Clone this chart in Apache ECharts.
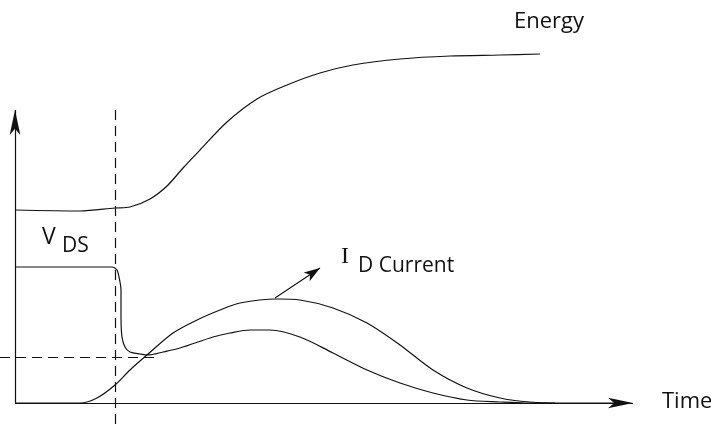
<!DOCTYPE html>
<html>
<head>
<meta charset="utf-8">
<script src="https://cdn.jsdelivr.net/npm/echarts@6/dist/echarts.min.js"></script>
<style>
  html, body { margin: 0; padding: 0; background: #fff; }
  #main { width: 711px; height: 425px; }
</style>
</head>
<body>
<div id="main"></div>
<script>
// time on x, level on y (origin at the axis corner)
var energy = [[0,193],[65,192],[100,195],[115,196],[135,204],[152,217],[168,235],[185,253],[212,281],[242,304],[272,318],[305,330],[338,338],[385,344],[435,347],[485,348],[525,349]];
var vds = [[0,136],[97,136],[102,133],[104,126],[106,113],[106,86],[107,66],[110,56],[115,51],[125,49],[133,48],[148,51],[165,55],[198,66],[215,70],[235,73],[255,73],[285,66],[318,50],[352,33],[385,20],[418,10],[452,3],[485,1],[510,0],[540,0]];
var idCurrent = [[0,0],[65,0],[82,5],[100,18],[115,33],[132,48],[158,70],[182,83],[205,93],[225,100],[262,104],[285,103],[318,95],[352,80],[385,58],[418,33],[452,15],[485,5],[515,1],[545,0],[605,0]];

var axisEnd = [618, 293];      // x axis tip, y axis tip
var switchT = 100;             // dashed vertical
var plateau = 46;              // dashed horizontal
var idArrow = [[260,105],[305,135]];

var myChart = echarts.init(document.getElementById("main"));
var ink = "#111";
var curve = { color: ink, width: 1.2 };

function plain(name, data) {
  return {
    name: name, type: "line", data: data, smooth: 0.3,
    symbol: "none", lineStyle: curve, silent: true
  };
}

option = {
  animation: false,
  grid: { left: 0, right: 0, top: 20, bottom: 0 },
  xAxis: { type: "value", min: -15, max: 696, show: false },
  yAxis: { type: "value", min: -22, max: 383, show: false },
  series: [
    plain("Energy", energy),
    plain("VDS", vds),
    plain("ID", idCurrent),
    {
      type: "line", data: [], silent: true,
      markLine: {
        silent: true, symbol: ["none", "arrow"], symbolSize: [8, 25],
        label: { show: false },
        lineStyle: { color: ink, width: 1.2, type: "solid" },
        data: [
          [{ coord: [0, 0] }, { coord: [axisEnd[0], 0] }],
          [{ coord: [0, 0] }, { coord: [0, axisEnd[1]] }]
        ]
      }
    },
    {
      type: "line", data: [], silent: true,
      markLine: {
        silent: true, symbol: ["none", "arrow"], symbolSize: [8, 16],
        label: { show: false },
        lineStyle: { color: ink, width: 1.2, type: "solid" },
        data: [[{ coord: idArrow[0] }, { coord: idArrow[1] }]]
      }
    },
    {
      type: "line", data: [], silent: true,
      markLine: {
        silent: true, symbol: "none",
        label: { show: false },
        lineStyle: { color: ink, width: 1.2, type: [10, 6] },
        data: [
          [{ coord: [switchT, axisEnd[1]] }, { coord: [switchT, -22] }],
          [{ coord: [-15, plateau] }, { coord: [142, plateau] }]
        ]
      }
    }
  ],
  graphic: [
    { type: "text", x: 514, y: 22, style: { text: "Energy", font: '22px "Open Sans"', fill: ink, verticalAlign: "middle" } },
    { type: "text", x: 662, y: 402, style: { text: "Time", font: '22px "Open Sans"', fill: ink, verticalAlign: "middle" } },
    { type: "text", x: 42, y: 237, style: { text: "V", font: '23px "Open Sans"', fill: ink, verticalAlign: "middle" } },
    { type: "text", x: 62, y: 246, style: { text: "DS", font: '21px "Open Sans"', fill: ink, verticalAlign: "middle" } },
    { type: "text", x: 341, y: 257, style: { text: "I", font: '24px "Liberation Serif"', fill: ink, verticalAlign: "middle" } },
    { type: "text", x: 358, y: 266, style: { text: "D Current", font: '21px "Open Sans"', fill: ink, verticalAlign: "middle" } }
  ]
};
if (option && typeof option === "object") {
  myChart.setOption(option, true);
}
</script>
</body>
</html>
